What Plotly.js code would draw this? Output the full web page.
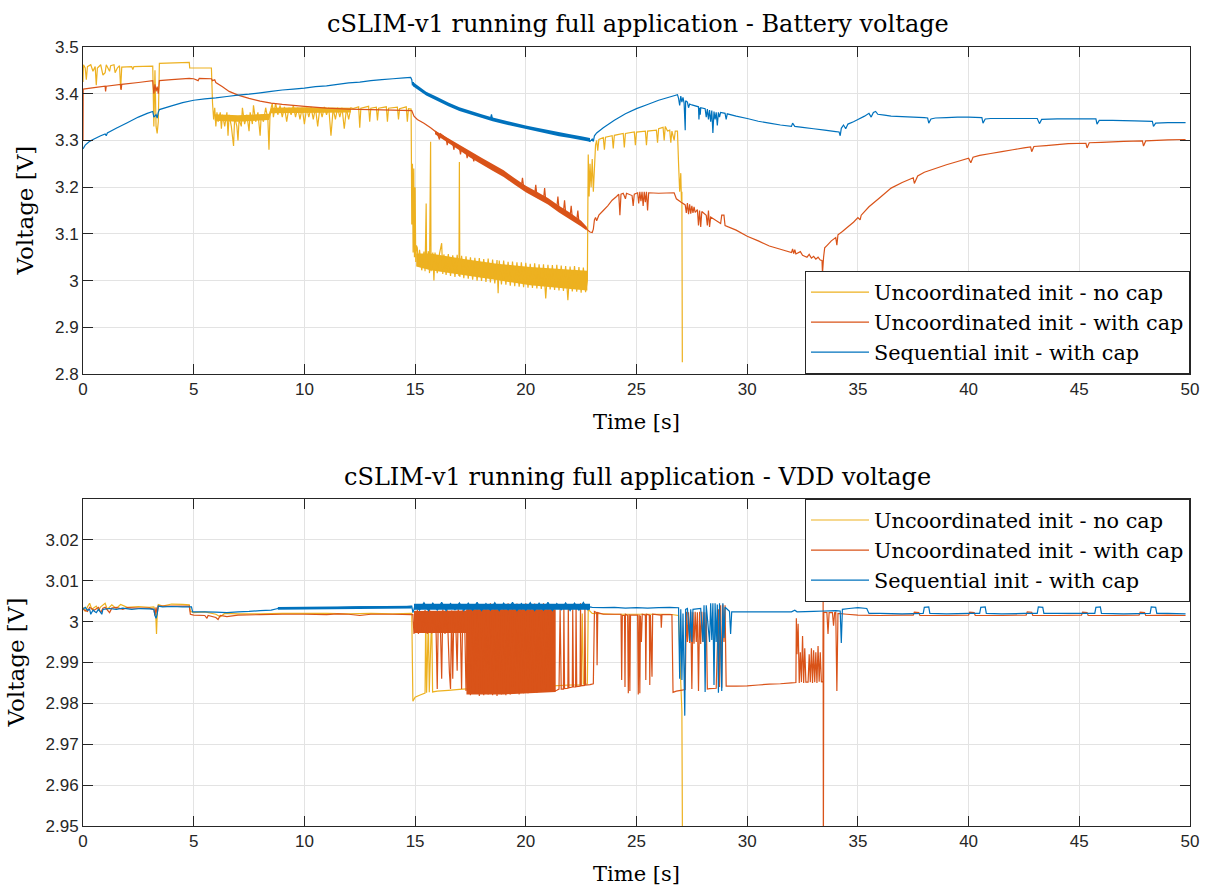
<!DOCTYPE html>
<html>
<head>
<meta charset="utf-8">
<script src="https://cdn.plot.ly/plotly-3.0.1.min.js"></script>
<style>
  html, body { margin: 0; padding: 0; background: #ffffff; }
  #chart { width: 1211px; height: 886px; }
</style>
</head>
<body>
<div id="chart"></div>
<script>
// ---- Battery voltage [V] samples, as [time s, volts] ----
const batNoCap = [
  [0,3.425],[0.02,3.462],[0.1,3.455],[0.15,3.43],[0.2,3.458],[0.35,3.462],[0.45,3.448],[0.55,3.458],[0.6,3.418],[0.65,3.455],
  [0.8,3.462],[0.9,3.44],[1.0,3.445],[1.05,3.462],[1.2,3.448],[1.25,3.46],[1.4,3.462],[1.45,3.445],[1.55,3.455],[1.65,3.46],
  [1.7,3.41],[1.75,3.457],[2.2,3.458],[2.25,3.452],[2.3,3.458],[3.15,3.459],[3.2,3.33],[3.25,3.45],[3.3,3.33],[3.35,3.315],
  [3.4,3.34],[3.45,3.465],[4.8,3.467],[4.82,3.455],[5.8,3.455],[5.85,3.38],[5.9,3.345],
  [5.95,3.37],[6.0,3.33],[6.05,3.36],[6.1,3.34],[6.2,3.36],[6.25,3.325],[6.3,3.355],[6.4,3.33],[6.5,3.36],[6.55,3.31],
  [6.6,3.355],[6.7,3.33],[6.8,3.288],[6.85,3.35],[6.95,3.33],[7.0,3.30],[7.05,3.345],[7.15,3.33],[7.2,3.37],[7.3,3.335],
  [7.4,3.355],[7.5,3.32],[7.55,3.36],[7.65,3.335],[7.7,3.375],[7.8,3.34],[7.9,3.36],[8.0,3.31],[8.05,3.355],[8.15,3.34],
  [8.25,3.37],[8.35,3.345],[8.4,3.28],[8.45,3.36],[8.55,3.38],[8.6,3.35],[8.7,3.38],[8.8,3.355],[8.9,3.375],[9.0,3.35],
  [9.1,3.372],[9.2,3.34],[9.3,3.37],[9.4,3.355],[9.5,3.375],[9.6,3.35],[9.7,3.37],[9.8,3.345],[9.9,3.37],[10.0,3.335],
  [10.1,3.37],[10.2,3.35],[10.3,3.372],[10.4,3.345],[10.5,3.37],[10.6,3.33],[10.7,3.37],[10.8,3.35],[10.9,3.372],[11.0,3.355],
  [11.1,3.37],[11.2,3.31],[11.3,3.368],[11.4,3.345],[11.5,3.37],[11.6,3.35],[11.7,3.37],[11.8,3.325],[11.9,3.368],[12.0,3.345],
  [12.1,3.37],[12.2,3.368],[12.45,3.372],[12.5,3.327],[12.55,3.369],[12.9,3.373],[12.95,3.34],[13.0,3.369],[13.25,3.371],[13.3,3.343],
  [13.35,3.369],[13.7,3.372],[13.75,3.34],[13.8,3.369],[14.2,3.371],[14.25,3.345],[14.3,3.368],[14.6,3.372],[14.65,3.34],[14.7,3.368],
  [14.82,3.367],[14.85,3.12],[14.88,3.25],[14.91,3.06],[14.94,3.24],[14.97,3.05],[15.0,3.2],[15.03,3.04],[15.06,3.075],
  [15.1,3.07],[15.15,3.03],[15.2,3.066],[15.3,3.022],[15.4,3.062],[15.45,3.02],[15.5,3.165],[15.52,3.03],[15.6,3.063],[15.65,3.016],
  [15.7,3.297],[15.72,3.02],[15.8,3.06],[15.85,3.0],[15.9,3.06],[16.0,3.016],[16.1,3.057],[16.2,3.08],[16.25,3.014],[16.3,3.056],
  [16.4,3.012],[16.5,3.057],[16.6,3.01],[16.7,3.054],[16.8,3.008],[16.9,3.055],[16.98,3.01],[17.0,3.254],[17.02,3.008],[17.1,3.053],
  [17.2,3.005],[17.3,3.052],[17.4,3.004],[17.5,3.05],[17.6,3.002],[17.7,3.049],[17.8,3.0],[17.9,3.048],[18.0,2.999],[18.1,3.046],
  [18.2,2.997],[18.3,3.047],[18.4,2.996],[18.5,3.045],[18.6,2.994],[18.7,3.044],[18.75,2.973],[18.8,3.043],[18.9,2.992],[19.0,3.043],
  [19.1,2.991],[19.2,3.04],[19.3,2.989],[19.4,3.041],[19.5,2.988],[19.6,3.039],[19.7,2.987],[19.8,3.039],[19.9,2.986],[20.0,3.038],
  [20.1,2.985],[20.2,3.036],[20.3,2.984],[20.4,3.037],[20.5,2.983],[20.6,3.035],[20.7,2.982],[20.8,3.035],[20.9,2.962],[21.0,3.034],
  [21.1,2.981],[21.2,3.033],[21.3,2.98],[21.4,3.034],[21.5,2.979],[21.6,3.032],[21.7,2.978],[21.8,3.031],[21.9,2.958],[22.0,3.03],
  [22.1,2.977],[22.2,3.031],[22.3,2.976],[22.4,3.029],[22.5,2.974],[22.6,3.028],[22.7,2.975],[22.78,3.0],
  [22.82,3.27],[22.86,3.18],[22.9,3.25],[22.95,3.20],[23.0,3.26],[23.05,3.19],[23.1,3.24],[23.15,3.29],[23.2,3.30],[23.25,3.278],
  [23.3,3.302],[23.5,3.306],[23.55,3.28],[23.6,3.307],[23.9,3.31],[23.95,3.283],[24.0,3.311],[24.4,3.315],[24.45,3.285],[24.5,3.315],
  [24.9,3.318],[24.95,3.29],[25.0,3.318],[25.4,3.32],[25.45,3.29],[25.5,3.32],[25.9,3.322],[25.95,3.295],[26.0,3.325],[26.2,3.328],
  [26.25,3.30],[26.3,3.33],[26.4,3.32],[26.5,3.322],[26.55,3.295],[26.6,3.32],[26.7,3.30],[26.75,3.32],[26.85,3.32],[26.9,3.25],
  [26.95,3.19],[27.0,3.23],[27.03,3.17],[27.05,3.19],[27.07,2.825]
];
// solid cores of the noisy stretches: [time, upper, lower]
const batNoCapBandA = [
  [5.95,3.356,3.342],[7.0,3.354,3.34],[8.4,3.357,3.344],[8.5,3.37,3.358],[10.0,3.371,3.358],[12.1,3.37,3.36]
];
const batNoCapBandB = [
  [15.05,3.058,3.03],[15.7,3.058,3.022],[17.2,3.046,3.011],[18.7,3.036,3.001],[20.2,3.029,2.99],[21.7,3.025,2.984],[22.78,3.021,2.979]
];
const batCap = [
  [0,3.30],[0.01,3.41],[0.5,3.413],[1.0,3.416],[1.02,3.405],[1.05,3.416],[1.7,3.42],[1.72,3.408],[1.75,3.42],[2.5,3.424],
  [3.15,3.428],[3.2,3.40],[3.25,3.42],[3.3,3.405],[3.35,3.415],[3.4,3.40],[3.45,3.428],[4.0,3.43],[4.8,3.433],[5.0,3.432],
  [5.2,3.428],[5.25,3.433],[5.8,3.432],[5.85,3.428],[5.95,3.43],[6.0,3.424],[6.3,3.415],[6.6,3.405],[7.0,3.397],[7.5,3.39],
  [8.0,3.384],[8.5,3.38],[9.0,3.377],[10.0,3.373],[11.0,3.369],[12.0,3.367],[13.0,3.366],[14.0,3.365],[14.85,3.364],[14.95,3.352],
  [15.1,3.345],[15.4,3.337],[15.7,3.327],[16.0,3.316],[16.1,3.302],[16.15,3.314],[16.4,3.305],[16.45,3.29],[16.5,3.302],[16.7,3.295],
  [16.75,3.28],[16.8,3.293],[17.0,3.285],[17.05,3.27],[17.1,3.283],[17.3,3.277],[17.35,3.262],[17.4,3.275],[17.6,3.267],[17.65,3.255],
  [17.7,3.265],[18.0,3.256],[18.5,3.242],[19.0,3.229],[19.5,3.212],[19.8,3.203],[19.85,3.22],[19.9,3.201],[20.0,3.196],[20.4,3.185],
  [20.45,3.205],[20.5,3.183],[20.8,3.174],[20.85,3.198],[20.9,3.172],[21.0,3.17],[21.4,3.156],[21.45,3.18],[21.5,3.153],[21.7,3.147],
  [21.75,3.172],[21.8,3.145],[22.0,3.138],[22.05,3.16],[22.1,3.135],[22.3,3.128],[22.35,3.15],[22.4,3.125],[22.5,3.122],[22.7,3.115],
  [22.8,3.108],[22.9,3.104],
  [23.0,3.103],[23.05,3.11],[23.1,3.13],[23.15,3.135],[23.2,3.128],[23.3,3.14],[23.5,3.15],[23.7,3.16],[23.9,3.172],[24.1,3.18],
  [24.2,3.185],[24.25,3.14],[24.3,3.185],[24.4,3.187],[24.5,3.175],[24.55,3.187],[24.8,3.182],[24.85,3.16],[24.9,3.185],[25.05,3.188],
  [25.1,3.165],[25.15,3.19],[25.2,3.17],[25.25,3.19],[25.3,3.16],[25.35,3.19],[25.4,3.168],[25.45,3.19],[25.5,3.15],[25.55,3.188],
  [26.0,3.187],[26.7,3.188],[26.8,3.175],[27.0,3.168],[27.2,3.162],[27.25,3.145],[27.3,3.166],[27.35,3.142],[27.4,3.163],[27.45,3.143],
  [27.5,3.16],[27.55,3.145],[27.6,3.158],[27.65,3.146],[27.75,3.152],[27.8,3.118],[27.85,3.15],[27.9,3.115],[27.95,3.148],[28.15,3.14],
  [28.2,3.118],[28.25,3.15],[28.3,3.115],[28.35,3.136],[28.8,3.122],[28.85,3.14],[28.95,3.14],[29.0,3.118],[29.5,3.108],[30.0,3.095],
  [30.5,3.085],[31.0,3.074],[31.5,3.067],[32.0,3.06],[32.05,3.068],[32.1,3.058],[32.15,3.066],[32.2,3.057],[32.4,3.062],[32.5,3.054],
  [32.7,3.05],[32.8,3.056],[32.9,3.048],[33.0,3.052],[33.1,3.046],[33.2,3.05],[33.3,3.044],[33.38,3.043],[33.4,3.015],[33.45,3.05],
  [33.5,3.07],[33.6,3.075],[33.8,3.085],[34.0,3.092],[34.05,3.076],[34.1,3.098],[34.3,3.105],[34.5,3.113],[34.8,3.125],[35.0,3.135],
  [35.1,3.13],[35.15,3.14],[35.5,3.158],[36.0,3.178],[36.5,3.198],[37.0,3.21],[37.5,3.22],[37.55,3.208],[37.7,3.224],[38.0,3.232],
  [38.5,3.24],[39.0,3.248],[39.5,3.255],[40.0,3.262],[40.1,3.252],[40.2,3.264],[40.5,3.268],[41.0,3.272],[41.5,3.276],[42.0,3.28],
  [42.5,3.284],[42.8,3.286],[42.85,3.276],[42.95,3.287],[43.5,3.289],[44.0,3.291],[44.5,3.293],[45.3,3.294],[45.35,3.284],[45.45,3.295],
  [46.0,3.296],[46.5,3.297],[47.0,3.298],[47.85,3.299],[47.9,3.288],[48.0,3.299],[48.5,3.3],[49.0,3.301],[49.8,3.302]
];
const batCapBand = [
  [15.9,3.321,3.313],[16.5,3.305,3.295],[17.0,3.291,3.279],[17.5,3.277,3.263],[18.0,3.263,3.249],[18.5,3.249,3.235],
  [19.0,3.236,3.222],[19.5,3.219,3.205],[20.0,3.203,3.189],[20.5,3.19,3.176],[21.0,3.177,3.163],[21.5,3.16,3.146],
  [22.0,3.145,3.131],[22.5,3.128,3.116],[22.75,3.115,3.107]
];
const batSeq = [
  [0,3.282],[0.1,3.29],[0.3,3.298],[0.5,3.303],[0.8,3.31],[1.0,3.314],[1.05,3.31],[1.1,3.316],[1.5,3.326],[2.0,3.338],
  [2.5,3.35],[2.9,3.358],[3.15,3.362],[3.2,3.35],[3.3,3.355],[3.35,3.348],[3.4,3.36],[3.45,3.366],[4.0,3.374],[4.5,3.381],
  [5.0,3.386],[5.5,3.389],[6.0,3.391],[6.5,3.394],[7.0,3.397],[7.5,3.399],[8.0,3.402],[8.5,3.405],[9.0,3.408],[9.5,3.41],
  [10.0,3.412],[10.5,3.415],[11.0,3.417],[11.5,3.42],[12.0,3.423],[12.5,3.425],[13.0,3.428],[13.5,3.43],[14.0,3.432],[14.5,3.434],
  [14.8,3.435],[14.85,3.43],[14.88,3.418],[14.92,3.425],[14.96,3.416],[15.0,3.418],[15.5,3.4],[16.0,3.389],[16.5,3.377],[17.0,3.367],
  [17.5,3.359],[18.0,3.352],[18.4,3.346],[18.45,3.356],[18.5,3.345],[19.0,3.339],[19.5,3.333],[20.0,3.328],[20.5,3.323],[21.0,3.318],
  [21.5,3.313],[22.0,3.309],[22.5,3.305],[22.8,3.302],[22.9,3.298],[23.0,3.303],[23.05,3.298],[23.1,3.31],[23.2,3.316],
  [23.5,3.327],[24.0,3.343],[24.5,3.357],[25.0,3.368],[25.5,3.377],[26.0,3.386],[26.5,3.393],[26.85,3.398],[26.9,3.39],[26.95,3.375],
  [27.0,3.395],[27.05,3.382],[27.1,3.392],[27.15,3.38],[27.2,3.322],[27.22,3.385],[27.3,3.382],[27.35,3.37],[27.4,3.378],[27.5,3.376],
  [27.8,3.372],[27.82,3.345],[27.85,3.37],[27.88,3.355],[27.9,3.37],[28.1,3.368],[28.15,3.35],[28.2,3.367],[28.25,3.345],[28.3,3.365],
  [28.35,3.34],[28.4,3.364],[28.45,3.316],[28.5,3.362],[28.55,3.345],[28.6,3.36],[28.65,3.332],[28.7,3.36],[28.75,3.35],[28.8,3.36],
  [29.0,3.358],[29.05,3.345],[29.1,3.357],[29.5,3.352],[30.0,3.347],[30.5,3.341],[31.0,3.337],[31.5,3.333],[32.0,3.33],[32.05,3.337],
  [32.15,3.33],[32.5,3.328],[33.0,3.325],[33.5,3.322],[34.0,3.319],[34.15,3.318],[34.2,3.31],[34.25,3.326],[34.35,3.333],[34.45,3.325],
  [34.55,3.335],[34.8,3.34],[35.0,3.345],[35.3,3.352],[35.5,3.358],[35.6,3.35],[35.7,3.36],[35.8,3.362],[35.9,3.356],[36.2,3.354],
  [36.5,3.352],[37.0,3.351],[37.5,3.35],[38.0,3.349],[38.15,3.348],[38.2,3.337],[38.3,3.346],[38.5,3.348],[39.0,3.349],[39.5,3.35],
  [40.0,3.35],[40.6,3.349],[40.65,3.337],[40.75,3.346],[41.0,3.347],[42.0,3.347],[43.1,3.347],[43.2,3.336],[43.3,3.345],[44.0,3.346],
  [45.0,3.346],[45.75,3.346],[45.8,3.335],[45.9,3.343],[46.5,3.343],[47.5,3.342],[48.3,3.341],[48.35,3.33],[48.45,3.337],[49.0,3.338],
  [49.8,3.338]
];
const batSeqBand = [
  [14.9,3.425,3.416],[15.5,3.404,3.396],[16.0,3.393,3.385],[16.5,3.381,3.373],[17.0,3.371,3.363],[17.5,3.363,3.355],
  [18.0,3.356,3.348],[18.5,3.349,3.341],[19.0,3.343,3.335],[19.5,3.337,3.329],[20.0,3.332,3.324],[20.5,3.327,3.319],
  [21.0,3.322,3.314],[21.5,3.317,3.309],[22.0,3.313,3.305],[22.5,3.309,3.301],[22.9,3.305,3.297]
];

// ---- VDD voltage [V] samples, as [time s, volts] ----
const vddNoCap = [
  [0,3.0035],[0.1,3.0025],[0.2,3.0036],[0.3,3.0045],[0.4,3.003],[0.6,3.0038],[0.7,3.0028],[0.8,3.0036],[1.0,3.0045],[1.1,3.003],
  [1.3,3.0041],[1.5,3.0032],[1.7,3.0042],[2.0,3.0035],[2.5,3.0037],[3.0,3.0035],[3.2,3.0036],[3.28,3.0025],[3.32,2.997],[3.36,3.003],
  [3.4,3.0042],[3.6,3.0038],[4.0,3.0043],[4.5,3.0042],[4.8,3.0041],[4.85,3.0025],[5.0,3.0022],[5.5,3.0024],[6.0,3.0018],[6.2,3.0012],
  [6.4,3.002],[7.0,3.0019],[8.0,3.0019],[9.0,3.002],[10.0,3.002],[11.0,3.002],[12.0,3.0019],[13.0,3.002],[14.0,3.0019],[14.85,3.002],
  [14.9,2.9805],[15.0,2.9815],[15.2,2.982],[15.45,2.9825],[15.48,3.002],[15.52,2.9826],[15.6,3.0005],[15.64,2.9827],[15.75,3.002],[15.79,2.9828],
  [16.0,2.983],[16.5,2.9832],[17.0,2.9834],[17.5,2.9836],[18.0,2.9837],[19.0,2.9838],[20.0,2.984],[21.0,2.9842],[22.0,2.9845],[22.5,2.9845],
  [22.55,3.002],[22.6,2.9847],[22.78,2.9848],[22.82,3.003],[23.0,3.002],[24.0,3.0018],[25.0,3.0018],[26.0,3.0018],[26.5,3.0018],[26.9,3.0015],
  [27.0,2.985],[27.05,2.978],[27.08,2.94]
];
const vddCap = [
  [0,3.003],[0.2,3.0025],[0.3,3.0035],[0.5,3.0028],[0.7,3.0035],[0.8,3.0022],[0.9,3.0033],[1.0,3.0035],[1.2,3.0022],[1.3,3.0033],
  [1.5,3.0035],[1.8,3.003],[2.0,3.0034],[2.5,3.0033],[3.0,3.0033],[3.2,3.003],[3.25,3.0015],[3.3,3.0035],[3.35,3.002],[3.4,3.0038],
  [4.0,3.0038],[4.8,3.0038],[4.85,3.0018],[5.0,3.0016],[5.5,3.0015],[5.6,3.0008],[5.65,3.0015],[6.0,3.001],[6.1,3.0005],[6.2,3.0015],
  [6.5,3.0012],[7.0,3.0016],[8.0,3.0017],[9.0,3.0018],[10.0,3.0018],[11.0,3.0017],[11.5,3.0019],[12.0,3.0018],[12.5,3.0015],[13.0,3.0018],
  [14.0,3.0018],[14.85,3.0017],[14.9,3.0017],[14.95,2.997],[15.0,3.0025],[15.05,2.9972],[15.1,3.003],[15.15,2.997],[15.25,3.0026],[15.35,2.9972],
  [15.45,3.0028],[15.55,2.997],[15.65,3.003],[15.75,2.9971],[15.85,3.0026],[15.95,2.997],[16.0,2.9835],[16.05,3.0025],[16.15,2.997],[16.2,2.986],
  [16.25,3.003],[16.35,2.997],[16.45,3.0028],[16.55,2.9875],[16.6,2.9835],[16.65,3.0027],[16.7,2.986],[16.75,3.0025],[16.85,2.997],[16.9,2.988],
  [16.95,3.003],[17.05,2.997],[17.1,2.9835],[17.15,3.0028],[17.25,2.997],[17.3,2.983],[17.4,3.003],[17.5,2.982],[17.6,3.004],[17.7,2.9825],
  [17.8,3.003],[17.9,2.9818],[18.0,3.0042],[18.1,2.982],[18.2,3.003],[18.3,2.9822],[18.4,3.0045],[18.5,2.982],[18.6,3.003],[18.7,2.9818],
  [18.8,3.0043],[18.9,2.9822],[19.0,3.003],[19.1,2.982],[19.2,3.0045],[19.3,2.9822],[19.4,3.003],[19.5,2.9825],[19.6,3.0044],[19.7,2.9822],
  [19.8,3.003],[19.9,2.9825],[20.0,3.0045],[20.1,2.9825],[20.2,3.003],[20.3,2.9827],[20.4,3.0044],[20.5,2.9826],[20.6,3.003],[20.7,2.9828],
  [20.8,3.0045],[20.9,2.9828],[21.0,3.003],[21.1,2.983],[21.2,3.0043],[21.3,2.983],[21.4,2.9832],[21.5,2.9835],[21.55,3.003],[21.6,2.9835],
  [21.7,2.9835],[21.72,3.0035],[21.75,2.9836],[21.9,2.9837],[21.92,3.0038],[21.95,2.9838],[22.1,2.984],[22.12,3.003],[22.15,2.984],[22.25,2.984],
  [22.27,3.004],[22.3,2.9841],[22.45,2.9842],[22.47,3.0045],[22.5,2.9843],[22.65,2.9844],[22.67,3.004],[22.7,2.9845],[22.9,2.9846],[23.05,2.9848],
  [23.1,3.0025],[23.2,3.0022],[23.22,2.9893],[23.25,3.0022],[23.5,3.0018],[24.0,3.0018],[24.3,3.0018],[24.33,2.9857],[24.36,3.0015],[24.46,3.0015],
  [24.48,2.984],[24.5,3.0018],[24.6,3.0015],[24.63,2.9825],[24.67,3.0018],[24.7,2.983],[24.73,3.0016],[25.05,3.0016],[25.08,2.9822],[25.12,3.0017],
  [25.15,2.9825],[25.18,3.0015],[25.22,2.995],[25.26,3.0018],[25.4,3.0016],[25.42,2.9857],[25.45,3.0018],[25.58,3.0016],[25.6,2.9845],[25.63,3.0016],
  [25.7,2.9865],[25.73,3.0018],[26.1,3.0016],[26.12,2.9985],[26.15,3.0017],[26.6,3.0017],[26.65,2.9827],[26.8,2.983],[27.0,2.9832],[27.2,2.9834],
  [27.25,3.0024],[27.3,2.995],[27.35,3.0023],[27.4,2.9948],[27.45,3.0024],[27.5,2.9835],[27.55,3.0023],[27.6,2.9946],[27.65,3.0024],[27.7,2.995],
  [27.75,3.0023],[27.8,2.983],[27.85,3.0024],[27.9,2.9945],[27.95,3.0024],[28.0,2.995],[28.05,3.0023],[28.1,2.9948],[28.15,3.0023],[28.2,2.9835],
  [28.3,2.9836],[28.6,2.9837],[28.7,3.003],[28.75,2.984],[28.8,3.004],[28.85,2.9838],[28.9,3.0042],[28.95,2.995],[29.0,3.004],[29.05,2.9842],
  [29.5,2.9842],[30.0,2.9843],[30.5,2.9845],[31.0,2.9847],[31.5,2.9848],[32.0,2.985],[32.2,2.9851],[32.22,3.0008],[32.25,2.992],[32.3,2.9995],
  [32.35,2.985],[32.4,2.9925],[32.45,2.9852],[32.5,2.9965],[32.55,2.985],[32.6,2.9935],[32.65,2.9852],[32.75,2.9852],[32.8,2.992],[32.85,2.9852],
  [32.9,2.9935],[32.95,2.985],[33.0,2.993],[33.05,2.9852],[33.1,2.9925],[33.15,2.985],[33.2,2.994],[33.25,2.9853],[33.3,2.9925],[33.35,2.9853],
  [33.42,2.9852],[33.43,3.0055],[33.44,2.94],[33.46,3.0023],[33.6,3.0022],[33.65,2.997],[33.7,3.0022],[33.85,3.0022],[33.9,2.999],[33.95,3.0022],
  [34.0,3.0023],[34.05,2.983],[34.1,3.002],[34.5,3.0018],[35.0,3.0016],[36.0,3.0015],[37.0,3.0016],[37.5,3.0016],[37.55,3.0023],[37.75,3.0022],
  [37.8,3.0015],[39.0,3.0015],[40.0,3.0016],[40.05,3.0023],[40.25,3.0022],[40.3,3.0015],[41.5,3.0015],[42.6,3.0016],[42.65,3.0024],[42.85,3.0023],
  [42.9,3.0015],[44.0,3.0015],[45.1,3.0016],[45.15,3.0023],[45.35,3.0022],[45.4,3.0015],[46.5,3.0015],[47.7,3.0016],[47.75,3.0023],[47.95,3.0022],
  [48.0,3.0015],[49.0,3.0016],[49.8,3.0015]
];
// solid switching region: [time, upper, lower]
const vddCapBand = [
  [14.95,3.0026,2.9972],[17.3,3.0027,2.9972],[17.32,3.003,2.9822],[19.0,3.003,2.9822],[21.35,3.003,2.9828]
];
const vddSeq = [
  [0,3.003],[0.1,3.0035],[0.2,3.0028],[0.3,3.003],[0.35,3.0018],[0.45,3.0028],[0.6,3.0022],[0.7,3.003],[0.85,3.0018],[0.9,3.003],
  [1.2,3.0032],[1.5,3.003],[1.8,3.0033],[2.2,3.003],[2.6,3.0032],[3.0,3.0031],[3.2,3.003],[3.25,3.0015],[3.3,3.0008],[3.35,3.0018],
  [3.4,3.0038],[3.6,3.0036],[4.0,3.0037],[4.5,3.0036],[4.9,3.0036],[4.95,3.0024],[5.5,3.0024],[6.0,3.0023],[6.5,3.0022],[7.0,3.0024],
  [7.5,3.0025],[8.0,3.0027],[8.5,3.0028],[8.8,3.0032],[9.5,3.0034],[10.5,3.0034],[11.5,3.0034],[12.5,3.0036],[13.5,3.0036],[14.5,3.0036],
  [14.85,3.0038],[14.9,3.0022],[14.95,3.003],[15.0,3.0042],
  [15.2,3.0028],[15.4,3.0046],[15.6,3.0027],[15.8,3.0045],[16.0,3.0028],[16.2,3.0047],[16.4,3.0027],[16.6,3.0044],[16.8,3.0029],[17.0,3.0046],
  [17.2,3.0027],[17.4,3.0045],[17.6,3.0028],[17.8,3.0047],[18.0,3.0027],[18.2,3.0044],[18.4,3.0028],[18.6,3.0046],[18.8,3.0027],[19.0,3.0045],
  [19.2,3.0029],[19.4,3.0047],[19.6,3.0027],[19.8,3.0044],[20.0,3.0028],[20.2,3.0046],[20.4,3.0027],[20.6,3.0045],[20.8,3.0028],[21.0,3.0047],
  [21.2,3.0027],[21.4,3.0044],[21.6,3.0029],[21.8,3.0046],[22.0,3.0027],[22.2,3.0045],[22.4,3.0028],[22.6,3.0047],[22.8,3.0029],[22.9,3.0036],
  [23.0,3.0035],[23.5,3.0034],[24.0,3.0035],[24.5,3.0033],[25.0,3.0034],[25.5,3.0033],[26.0,3.0034],[26.5,3.0035],[26.9,3.0034],[26.95,2.986],
  [27.0,3.003],[27.05,2.9857],[27.1,3.002],[27.18,2.977],[27.22,3.003],[27.3,3.0032],[27.4,2.9953],[27.45,3.003],[27.5,2.995],[27.55,3.003],
  [27.9,3.0032],[28.0,2.995],[28.05,3.004],[28.1,2.9828],[28.15,3.004],[28.3,2.995],[28.35,3.0045],[28.4,2.9955],[28.45,3.0045],[28.5,2.9845],
  [28.55,3.0045],[28.6,2.995],[28.65,3.0042],[28.7,2.9826],[28.75,3.0045],[28.8,2.995],[28.85,2.983],[28.9,3.0045],[28.95,2.996],[29.0,3.0035],
  [29.2,3.0025],[29.25,2.997],[29.3,3.0024],[30.0,3.0024],[31.0,3.0024],[32.0,3.0024],[32.15,3.0028],[32.25,3.0024],[33.0,3.0025],[33.5,3.0026],
  [34.0,3.0027],[34.2,3.0026],[34.25,2.9948],[34.3,3.003],[34.6,3.0032],[35.0,3.0034],[35.4,3.0032],[35.5,3.002],[36.0,3.002],[37.0,3.0019],
  [37.95,3.002],[38.0,3.0035],[38.2,3.0036],[38.25,3.002],[39.0,3.0019],[40.0,3.002],[40.5,3.002],[40.55,3.0035],[40.75,3.0036],[40.8,3.002],
  [41.5,3.0019],[42.5,3.002],[43.1,3.002],[43.15,3.0036],[43.35,3.0035],[43.4,3.002],[44.5,3.002],[45.7,3.002],[45.75,3.0035],[45.95,3.0036],
  [46.0,3.002],[47.0,3.0019],[48.2,3.002],[48.25,3.0036],[48.45,3.0035],[48.5,3.002],[49.0,3.002],[49.8,3.0019]
];
const vddSeqBandA = [
  [8.8,3.0036,3.0029],[12.0,3.0038,3.003],[14.85,3.0039,3.0032]
];
const vddSeqBandB = [
  [14.95,3.0044,3.0029],[22.9,3.0044,3.0029]
];

// ---- labels ----
const seriesNames = ['Uncoordinated init - no cap', 'Uncoordinated init - with cap', 'Sequential init - with cap'];
const xTicks = [0, 5, 10, 15, 20, 25, 30, 35, 40, 45, 50];
const batTicks = [2.8, 2.9, 3.0, 3.1, 3.2, 3.3, 3.4, 3.5];
const batTickText = ['2.8', '2.9', '3', '3.1', '3.2', '3.3', '3.4', '3.5'];
const vddTicks = [2.95, 2.96, 2.97, 2.98, 2.99, 3.0, 3.01, 3.02];
const vddTickText = ['2.95', '2.96', '2.97', '2.98', '2.99', '3', '3.01', '3.02'];

const COLORS = ['#EDB120', '#D95319', '#0072BD'];
const SERIF = '"DejaVu Serif", "Liberation Serif", serif';
const SANS = '"Liberation Sans", Arial, Helvetica, sans-serif';

function lineTrace(pts, color, name, xa, ya, legendId) {
  return {
    type: 'scatter', mode: 'lines', name: name,
    x: pts.map(p => p[0]), y: pts.map(p => p[1]),
    xaxis: xa, yaxis: ya, legend: legendId,
    line: { color: color, width: 1.2, simplify: false },
    hoverinfo: 'skip'
  };
}
function bandTrace(rows, color, xa, ya) {
  const t = rows.map(r => r[0]), hi = rows.map(r => r[1]), lo = rows.map(r => r[2]);
  return {
    type: 'scatter', mode: 'lines',
    x: t.concat(t.slice().reverse()), y: hi.concat(lo.slice().reverse()),
    fill: 'toself', fillcolor: color, line: { width: 0, color: color },
    xaxis: xa, yaxis: ya, showlegend: false, hoverinfo: 'skip'
  };
}

const traces = [
  bandTrace(batNoCapBandA, COLORS[0], 'x', 'y'),
  bandTrace(batNoCapBandB, COLORS[0], 'x', 'y'),
  lineTrace(batNoCap, COLORS[0], seriesNames[0], 'x', 'y', 'legend'),
  bandTrace(batCapBand, COLORS[1], 'x', 'y'),
  lineTrace(batCap, COLORS[1], seriesNames[1], 'x', 'y', 'legend'),
  bandTrace(batSeqBand, COLORS[2], 'x', 'y'),
  lineTrace(batSeq, COLORS[2], seriesNames[2], 'x', 'y', 'legend'),
  lineTrace(vddNoCap, COLORS[0], seriesNames[0], 'x2', 'y2', 'legend2'),
  bandTrace(vddCapBand, COLORS[1], 'x2', 'y2'),
  lineTrace(vddCap, COLORS[1], seriesNames[1], 'x2', 'y2', 'legend2'),
  bandTrace(vddSeqBandA, COLORS[2], 'x2', 'y2'),
  bandTrace(vddSeqBandB, COLORS[2], 'x2', 'y2'),
  lineTrace(vddSeq, COLORS[2], seriesNames[2], 'x2', 'y2', 'legend2')
];

const TOP_LO = 0.5802, BOT_HI = 0.4198;

function axisBase() {
  return {
    ticks: 'inside', ticklen: 10, tickwidth: 1, tickcolor: '#262626',
    showline: true, linecolor: '#262626', linewidth: 1, mirror: 'ticks',
    showgrid: true, gridcolor: '#e3e3e3', gridwidth: 1, zeroline: false,
    tickfont: { family: SANS, size: 17, color: '#262626' },
    tickmode: 'array', fixedrange: true
  };
}
function legendBox(y, anchor) {
  return {
    x: 1, xanchor: 'right', y: y, yanchor: anchor,
    bgcolor: '#ffffff', bordercolor: '#262626', borderwidth: 1,
    font: { family: SERIF, size: 20.8, color: '#000000' },
    itemwidth: 58, tracegroupgap: 0, traceorder: 'normal'
  };
}
function label(text, x, y, xshift, yshift, angle, size) {
  return {
    text: text, xref: 'paper', yref: 'paper', x: x, y: y,
    xanchor: 'center', yanchor: 'middle', xshift: xshift, yshift: yshift,
    textangle: angle || 0, showarrow: false,
    font: { family: SERIF, size: size, color: '#000000' }
  };
}

const layout = {
  width: 1211, height: 886,
  margin: { l: 83, r: 21, t: 47, b: 60, pad: 0 },
  paper_bgcolor: '#ffffff', plot_bgcolor: '#ffffff',
  showlegend: true,
  xaxis: Object.assign(axisBase(), { domain: [0, 1], anchor: 'y', range: [0, 50], tickvals: xTicks }),
  yaxis: Object.assign(axisBase(), { domain: [TOP_LO, 1], anchor: 'x', range: [2.8, 3.5], tickvals: batTicks, ticktext: batTickText }),
  xaxis2: Object.assign(axisBase(), { domain: [0, 1], anchor: 'y2', range: [0, 50], tickvals: xTicks }),
  yaxis2: Object.assign(axisBase(), { domain: [0, BOT_HI], anchor: 'x2', range: [2.95, 3.03], tickvals: vddTicks, ticktext: vddTickText }),
  legend: legendBox(TOP_LO, 'bottom'),
  legend2: legendBox(BOT_HI, 'top'),
  annotations: [
    label('cSLIM-v1 running full application - Battery voltage', 0.5, 1, 1, 23, 0, 24),
    label('Time [s]', 0.5, TOP_LO, 0, -48, 0, 21),
    label('Voltage [V]', 0, (TOP_LO + 1) / 2, -58, 0, -90, 23),
    label('cSLIM-v1 running full application - VDD voltage', 0.5, BOT_HI, 1, 22, 0, 24),
    label('Time [s]', 0.5, 0, 0, -48, 0, 21),
    label('Voltage [V]', 0, BOT_HI / 2, -67, 0, -90, 23)
  ]
};

Plotly.newPlot('chart', traces, layout, { staticPlot: true, displayModeBar: false });
</script>
</body>
</html>
